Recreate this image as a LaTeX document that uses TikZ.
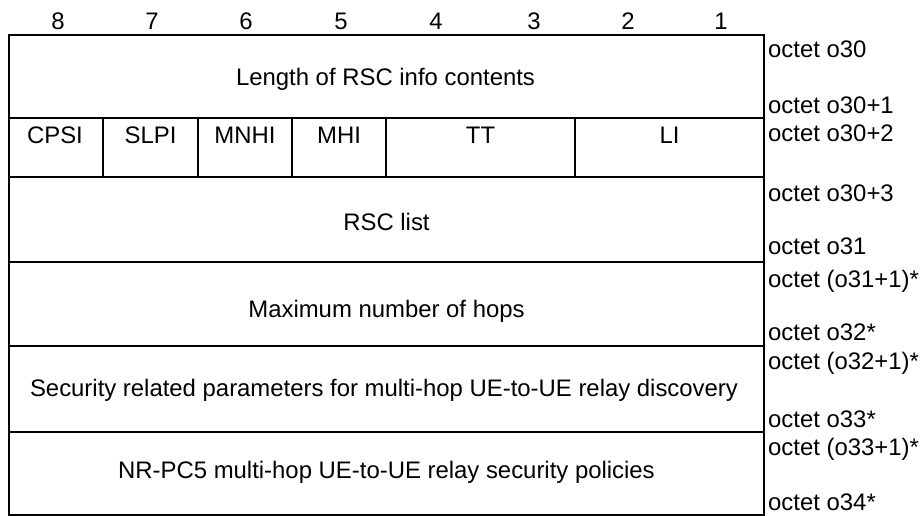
\documentclass[tikz,border=0pt]{standalone}
\usepackage{fontspec}
\setmainfont{Liberation Sans}
\begin{document}
\begin{tikzpicture}[x=1pt,y=-1pt,
  grid/.style={line width=2.2pt,line cap=rect,black},
  lbl/.style={inner sep=0pt,anchor=base,font=\fontsize{23.9}{28}\selectfont},
  oct/.style={inner sep=0pt,anchor=base west,font=\fontsize{23.9}{28}\selectfont}]
\useasboundingbox (0,0) rectangle (921,516);
% outer frame and row lines
\draw[grid] (9,35) rectangle (764,515);
\foreach \yy in {118,177,262,346,432} \draw[grid] (9,\yy) -- (764,\yy);
\foreach \xx in {103,198,292,386,575} \draw[grid] (\xx,118) -- (\xx,177);
% bit numbers
\node[lbl] (b8) at (58,30) {8};
\node[lbl] (b7) at (152,30) {7};
\node[lbl] (b6) at (246,30) {6};
\node[lbl] (b5) at (341,30) {5};
\node[lbl] (b4) at (436,30) {4};
\node[lbl] (b3) at (534,30) {3};
\node[lbl] (b2) at (628,30) {2};
\node[lbl] (b1) at (721,30) {1};
% cell texts
\node[lbl] (len) at (385.5,86) {Length of RSC info contents};
\node[lbl] (cpsi) at (55,143) {CPSI};
\node[lbl] (slpi) at (150.5,143) {SLPI};
\node[lbl] (mnhi) at (245,143) {MNHI};
\node[lbl] (tt) at (480.5,143) {TT};
\node[lbl] (mhi) at (339,143) {MHI};
\node[lbl] (li) at (669.5,143) {LI};
\node[lbl] (rsc) at (386.5,230) {RSC list};
\node[lbl] (hops) at (386.5,317) {Maximum number of hops};
\node[lbl] (sec) at (384,396) {Security related parameters for multi-hop UE-to-UE relay discovery};
\node[lbl] (pol) at (386.5,478) {NR-PC5 multi-hop UE-to-UE relay security policies};
% octet labels
\node[oct] (o1) at (768,58) {octet o30};
\node[oct] (o2) at (768,114) {octet o30+1};
\node[oct] (o3) at (768,142) {octet o30+2};
\node[oct] (o4) at (768,201) {octet o30+3};
\node[oct] (o5) at (768,254) {octet o31};
\node[oct] (o6) at (768,287) {octet (o31+1)*};
\node[oct] (o7) at (768,340) {octet o32*};
\node[oct] (o8) at (768,369) {octet (o32+1)*};
\node[oct] (o9) at (768,427) {octet o33*};
\node[oct] (o10) at (768,455) {octet (o33+1)*};
\node[oct] (o11) at (768,510) {octet o34*};
\end{tikzpicture}
\end{document}
